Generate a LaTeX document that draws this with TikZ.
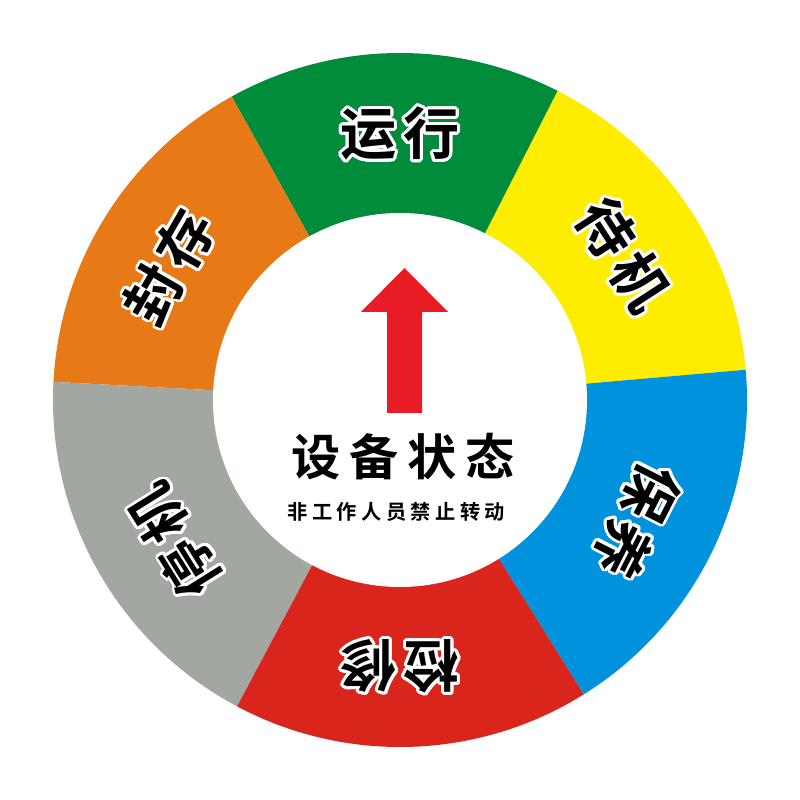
\documentclass[tikz,border=0pt]{standalone}
\usepackage{fontspec}
\usepackage{contour}
\usetikzlibrary{positioning}
\newfontfamily\ringfont{Noto Sans CJK SC Bold}[LetterSpace=12]
\newfontfamily\titlefont{Noto Sans CJK SC Bold}[LetterSpace=18]
\newfontfamily\notefont{Noto Sans CJK SC Bold}[LetterSpace=22]
\definecolor{ylw}{RGB}{255,237,0}
\definecolor{grn}{RGB}{0,140,58}
\definecolor{org}{RGB}{231,121,22}
\definecolor{gry}{RGB}{163,167,162}
\definecolor{rd}{RGB}{218,37,29}
\definecolor{blu}{RGB}{0,146,221}
\definecolor{arrowred}{RGB}{232,28,36}
\contourlength{1.6pt}
\contournumber{24}

\begin{document}
\begin{tikzpicture}[
    ring label/.style={inner sep=0pt, font=\ringfont\fontsize{32}{32}\selectfont},
    hub/.style={circle, fill=white, inner sep=0pt, minimum size=7.48cm}]
  \useasboundingbox (-8,-8) rectangle (8,8);
  \foreach \a/\b/\col/\m/\val [count=\i] in {5/63/ylw/33/待机, 63/119/grn/90/运行, 119/177/org/150/封存, 177/242/gry/212/停机, 242/302/rd/270/检修, 302/365/blu/333/保养} {
    \fill[\col] (0,0) -- (\a:6.94) arc[start angle=\a, end angle=\b, radius=6.94] -- cycle;
    \node[ring label, rotate=\m-90] (state\i) at (\m:5.3) {\contour{white}{\val}};
  }
  \node[hub] (center) at (0,0) {};
  \fill[arrowred] (-0.26,-0.26) -- (-0.26,1.76) -- (-0.78,1.76) -- (0.09,2.64)
    -- (0.96,1.76) -- (0.44,1.76) -- (0.44,-0.26) -- cycle;
  \node[font=\titlefont\fontsize{28}{28}\selectfont, inner sep=0pt] (title) at (0.06,-1.14) {设备状态};
  \node[font=\notefont\fontsize{11.5}{11.5}\selectfont, inner sep=0pt, below left=0.42cm and -2.05cm of title.south] (note) {非工作人员禁止转动};
\end{tikzpicture}
\end{document}
